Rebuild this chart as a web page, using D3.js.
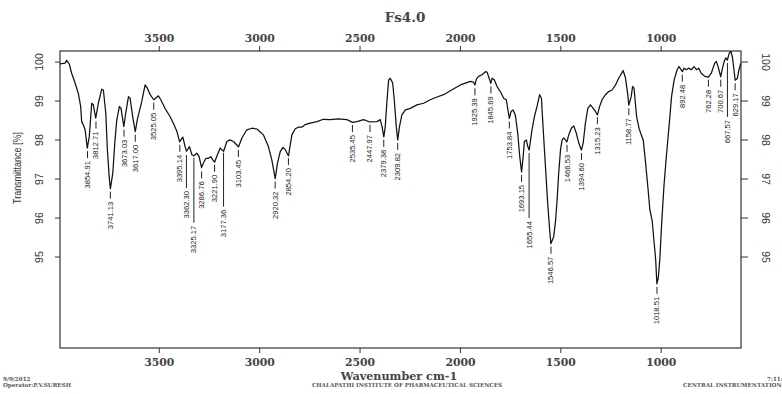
<!DOCTYPE html>
<html>
<head>
<meta charset="utf-8">
<script src="https://cdn.jsdelivr.net/npm/d3@7"></script>
<style>
  html, body { margin: 0; padding: 0; background: #ffffff; overflow: hidden; }
  svg { display: block; }
</style>
</head>
<body>
<svg id="chart" width="782" height="394"></svg>
<script>
// ---------------- DATA ----------------
const chartTitle = "Fs4.0";
const xAxisTitle = "Wavenumber cm-1";
const yAxisTitle = "Transmittance [%]";
const xTickValues = [3500, 3000, 2500, 2000, 1500, 1000];
const yTickValues = [95, 96, 97, 98, 99, 100];

const wavenumber = [
  3992, 3967, 3959, 3946, 3934, 3917, 3901, 3889, 3884, 3876, 3867, 3856, 3846, 3834, 3826, 3814,
  3801, 3784, 3776, 3764, 3756, 3746, 3741, 3729, 3718, 3709, 3696, 3688, 3674, 3666, 3651, 3643,
  3630, 3617, 3607, 3585, 3568, 3557, 3543, 3525, 3502, 3490, 3469, 3444, 3424, 3410, 3396, 3390,
  3380, 3369, 3362, 3347, 3335, 3325, 3311, 3299, 3287, 3274, 3264, 3253, 3241, 3231, 3222, 3208,
  3194, 3186, 3177, 3161, 3145, 3128, 3111, 3103, 3086, 3061, 3036, 3011, 2979, 2954, 2937, 2925,
  2920, 2909, 2895, 2882, 2870, 2854, 2849, 2837, 2821, 2804, 2787, 2771, 2746, 2712, 2680, 2646,
  2605, 2563, 2535, 2513, 2480, 2448, 2413, 2397, 2388, 2379, 2372, 2363, 2355, 2347, 2335, 2327,
  2317, 2310, 2301, 2289, 2272, 2247, 2214, 2181, 2148, 2114, 2081, 2048, 1998, 1948, 1932, 1925,
  1918, 1907, 1890, 1873, 1865, 1846, 1840, 1829, 1815, 1799, 1782, 1769, 1754, 1745, 1735, 1724,
  1712, 1702, 1693, 1685, 1679, 1669, 1662, 1655, 1641, 1629, 1616, 1603, 1594, 1586, 1574, 1563,
  1553, 1547, 1533, 1524, 1516, 1508, 1499, 1491, 1483, 1467, 1458, 1445, 1433, 1420, 1408, 1395,
  1386, 1375, 1363, 1350, 1336, 1325, 1315, 1304, 1292, 1275, 1259, 1242, 1225, 1209, 1187, 1175,
  1164, 1159, 1147, 1140, 1133, 1120, 1108, 1097, 1087, 1075, 1064, 1054, 1042, 1034, 1025, 1019,
  1012, 1004, 996, 984, 972, 957, 946, 933, 918, 909, 892, 884, 872, 861, 848, 834,
  822, 811, 798, 780, 762, 748, 731, 723, 714, 701, 694, 684, 676, 668, 658, 650,
  642, 629, 618, 610, 601
];
const transmittance = [
  99.94, 99.96, 100.03, 99.94, 99.70, 99.45, 99.19, 98.85, 98.46, 98.38, 98.25, 97.78, 98.08, 98.93, 98.89, 98.55,
  98.93, 99.29, 99.27, 98.68, 97.74, 96.97, 96.74, 97.14, 97.99, 98.51, 98.85, 98.80, 98.33, 98.63, 99.10, 99.06,
  98.59, 98.20, 98.51, 98.97, 99.40, 99.32, 99.15, 99.02, 99.12, 99.02, 98.80, 98.59, 98.38, 98.21, 97.94, 97.99,
  98.06, 97.82, 97.70, 97.82, 97.61, 97.58, 97.65, 97.56, 97.28, 97.44, 97.52, 97.52, 97.56, 97.48, 97.42, 97.61,
  97.78, 97.74, 97.70, 97.95, 97.99, 97.95, 97.86, 97.81, 98.04, 98.25, 98.29, 98.27, 98.12, 97.82, 97.48, 97.14,
  97.00, 97.39, 97.69, 97.80, 97.74, 97.58, 97.74, 98.12, 98.27, 98.32, 98.32, 98.38, 98.42, 98.46, 98.52, 98.51,
  98.53, 98.51, 98.44, 98.46, 98.51, 98.45, 98.46, 98.51, 98.33, 98.07, 98.33, 99.02, 99.53, 99.57, 99.45, 99.02,
  98.33, 97.99, 98.33, 98.63, 98.76, 98.80, 98.89, 98.93, 99.02, 99.09, 99.15, 99.25, 99.40, 99.49, 99.47, 99.40,
  99.55, 99.62, 99.66, 99.74, 99.73, 99.44, 99.57, 99.53, 99.36, 99.23, 99.06, 99.02, 98.54, 98.72, 98.76, 98.63,
  98.16, 97.56, 97.17, 97.56, 97.95, 97.99, 97.82, 97.73, 98.25, 98.59, 98.85, 99.15, 99.06, 98.33, 97.31, 96.37,
  95.68, 95.33, 95.51, 95.90, 96.45, 97.14, 97.74, 97.99, 98.04, 97.94, 98.12, 98.29, 98.35, 98.16, 97.91, 97.73,
  97.91, 98.42, 98.80, 98.89, 98.80, 98.72, 98.63, 98.85, 99.02, 99.15, 99.23, 99.27, 99.40, 99.57, 99.77, 99.57,
  99.15, 98.88, 99.10, 99.36, 99.32, 98.59, 98.29, 98.12, 97.99, 97.39, 96.79, 96.20, 95.90, 95.43, 94.92, 94.30,
  94.45, 94.96, 95.77, 96.79, 97.56, 98.42, 99.10, 99.53, 99.79, 99.87, 99.74, 99.83, 99.79, 99.83, 99.79, 99.87,
  99.79, 99.83, 99.70, 99.62, 99.60, 99.70, 99.96, 100.00, 99.87, 99.61, 99.79, 100.00, 100.09, 100.04, 100.22, 100.26,
  100.09, 99.52, 99.57, 99.79, 99.96
];

const peakLabels = [
  "3854.91", "3812.71", "3741.13", "3673.03", "3617.00", "3525.05", "3395.14", "3362.30",
  "3325.17", "3286.76", "3221.90", "3177.36", "3103.45", "2920.32", "2854.20", "2535.45",
  "2447.97", "2379.38", "2309.82", "1925.39", "1845.69", "1753.84", "1693.15", "1655.44",
  "1546.57", "1466.53", "1394.60", "1315.23", "1158.77", "1018.51", "892.48", "762.28",
  "700.67", "667.57", "629.17"
];
const peakTransmittance = [
  97.78, 98.54, 96.74, 98.33, 98.20, 99.02, 97.94, 97.68,
  97.61, 97.26, 97.43, 97.74, 97.81, 97.00, 97.60, 98.45,
  98.45, 98.07, 97.99, 99.39, 99.44, 98.54, 97.17, 97.73,
  95.33, 97.94, 97.73, 98.65, 98.88, 94.30, 99.74, 99.61,
  99.61, 100.04, 99.52
];

const footerDate = "9/9/2012";
const footerOperator = "Operator:P.V.SURESH";
const footerInstitute = "CHALAPATHI INSTITUTE OF PHARMACEUTICAL SCIENCES";
const footerTime = "7:11:";
const footerFacility = "CENTRAL INSTRUMENTATION";

// ---------------- DRAWING ----------------
const svg = d3.select("#chart");
const frame = { left: 60, right: 741, top: 51, bottom: 348 };

const x = d3.scaleLinear().domain([3992, 600]).range([frame.left, frame.right]);
const y = d3.scaleLinear().domain([92.655, 100.27]).range([frame.bottom, frame.top]);

const serif = "'DejaVu Serif', 'Liberation Serif', serif";
const sans = "'Liberation Sans', Arial, sans-serif";

// Title
svg.append("text")
  .attr("x", 405).attr("y", 22)
  .attr("text-anchor", "middle")
  .attr("font-family", serif).attr("font-weight", "bold").attr("font-size", 13.5)
  .attr("fill", "#4a4444")
  .text(chartTitle);

// Axes
function styleAxis(g) {
  g.select(".domain").remove();
  g.selectAll(".tick line").attr("stroke", "#333").attr("stroke-width", 1);
}
const xBottom = svg.append("g").attr("transform", `translate(0,${frame.bottom})`)
  .call(d3.axisBottom(x).tickValues(xTickValues).tickSize(5).tickPadding(5).tickFormat(d3.format("d")));
const xTop = svg.append("g").attr("transform", `translate(0,${frame.top})`)
  .call(d3.axisTop(x).tickValues(xTickValues).tickSize(5).tickPadding(4).tickFormat(d3.format("d")));
[xBottom, xTop].forEach(g => {
  styleAxis(g);
  g.selectAll(".tick text")
    .attr("font-family", serif).attr("font-weight", "bold").attr("font-size", 10.8)
    .attr("fill", "#444");
});

const yLeft = svg.append("g").attr("transform", `translate(${frame.left},0)`)
  .call(d3.axisLeft(y).tickValues(yTickValues).tickSize(5).tickFormat(d3.format("d")));
const yRight = svg.append("g").attr("transform", `translate(${frame.right},0)`)
  .call(d3.axisRight(y).tickValues(yTickValues).tickSize(7).tickFormat(d3.format("d")));
styleAxis(yLeft); styleAxis(yRight);
yLeft.selectAll(".tick text")
  .attr("x", null).attr("dy", null)
  .attr("transform", "translate(-21,0) rotate(-90)")
  .attr("text-anchor", "middle").attr("dominant-baseline", "central")
  .attr("font-family", sans).attr("font-size", 10.5).attr("fill", "#333");
yRight.selectAll(".tick text")
  .attr("x", null).attr("dy", null)
  .attr("transform", "translate(25,0) rotate(90)")
  .attr("text-anchor", "middle").attr("dominant-baseline", "central")
  .attr("font-family", sans).attr("font-size", 10.5).attr("fill", "#333");

// Frame
svg.append("rect")
  .attr("x", frame.left).attr("y", frame.top)
  .attr("width", frame.right - frame.left).attr("height", frame.bottom - frame.top)
  .attr("fill", "none").attr("stroke", "#333").attr("stroke-width", 1.2);

// Axis titles
svg.append("text")
  .attr("x", 399).attr("y", 380)
  .attr("text-anchor", "middle")
  .attr("font-family", serif).attr("font-weight", "bold").attr("font-size", 11.2)
  .attr("fill", "#444")
  .text(xAxisTitle);
svg.append("text")
  .attr("transform", "translate(17,168) rotate(-90)")
  .attr("text-anchor", "middle").attr("dominant-baseline", "central")
  .attr("font-family", sans).attr("font-size", 10)
  .attr("textLength", 72).attr("lengthAdjust", "spacingAndGlyphs")
  .attr("fill", "#333")
  .text(yAxisTitle);

// Spectrum
svg.append("clipPath").attr("id", "plotClip")
  .append("rect").attr("x", frame.left).attr("y", frame.top - 2)
  .attr("width", frame.right - frame.left).attr("height", frame.bottom - frame.top + 2);
const spectrum = wavenumber.map((w, i) => ({ w, t: transmittance[i] }));
svg.append("path")
  .datum(spectrum)
  .attr("clip-path", "url(#plotClip)")
  .attr("fill", "none").attr("stroke", "#111").attr("stroke-width", 1.25)
  .attr("stroke-linejoin", "round")
  .attr("d", d3.line().x(d => x(d.w)).y(d => y(d.t)));

// Peak annotations
const leaderExtra = { "3362.30": 26, "3325.17": 58, "3177.36": 47, "1655.44": 58, "667.57": 47 };
const peaks = peakLabels.map((lab, i) => ({ lab, w: +lab, t: peakTransmittance[i] }));
const pg = svg.append("g");
peaks.forEach(p => {
  const px = x(p.w);
  const top = y(p.t) + 3;
  const len = 7 + (leaderExtra[p.lab] || 0);
  pg.append("line")
    .attr("x1", px).attr("x2", px).attr("y1", top).attr("y2", top + len)
    .attr("stroke", "#222").attr("stroke-width", 1);
  pg.append("text")
    .attr("transform", `translate(${px},${top + len + 3}) rotate(-90)`)
    .attr("text-anchor", "end").attr("dominant-baseline", "central")
    .attr("font-family", sans).attr("font-size", 7.6)
    .attr("fill", "#222")
    .text(p.lab);
});

// Footer
const foot = (txt, xx, yy, anchor) => svg.append("text")
  .attr("x", xx).attr("y", yy).attr("text-anchor", anchor || "start")
  .attr("font-family", serif).attr("font-weight", "bold").attr("font-size", 5.6)
  .attr("fill", "#555").text(txt);
foot(footerDate, 3, 381);
foot(footerOperator, 3, 387);
foot(footerInstitute, 407, 387, "middle");
foot(footerTime, 767, 381);
foot(footerFacility, 683, 387);
</script>
</body>
</html>
